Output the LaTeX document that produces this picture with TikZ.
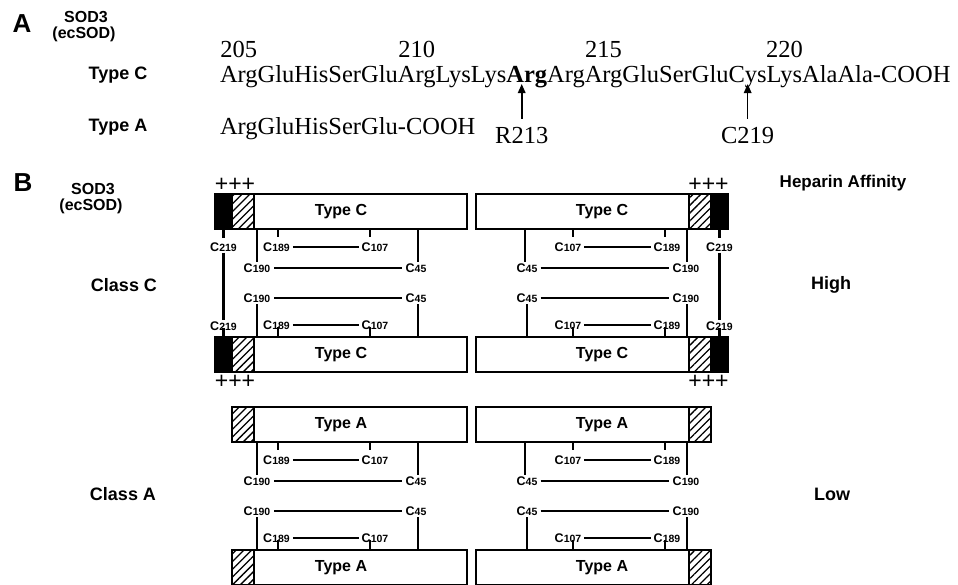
\documentclass[tikz,border=0pt]{standalone}
\usepackage{fontspec}
\setmainfont{Liberation Serif}
\newfontfamily\arialfont{Liberation Sans}
\usetikzlibrary{patterns.meta,arrows.meta,calc}
\newcommand{\cyslab}[1]{C{\fontsize{10.5}{10.5}\selectfont #1}}
\begin{document}
\begin{tikzpicture}[x=1pt,y=-1pt,
  lab/.style={font=\arialfont\bfseries\fontsize{18}{18}\selectfont, inner sep=0},
  sod/.style={font=\arialfont\bfseries\fontsize{16}{16}\selectfont, inner sep=0},
  big/.style={font=\arialfont\bfseries\fontsize{26}{26}\selectfont, inner sep=0},
  res/.style={font=\fontsize{24.5}{28}\selectfont, inner sep=0, outer sep=0, anchor=base west},
  num/.style={font=\fontsize{24.5}{28}\selectfont, inner sep=0, anchor=base},
  arr/.style={line width=1.6pt, -{Triangle[length=9pt,width=7.5pt]}},
  wbox/.style={draw, line width=1.7pt, minimum height=35pt, inner sep=0, outer sep=0, fill=white},
  hbox/.style={draw, line width=1.7pt, minimum height=35pt, minimum width=22pt, inner sep=0, outer sep=0, pattern={Lines[angle=45,distance=5.5pt,line width=1.3pt]}},
  bbox/.style={draw, line width=1.7pt, minimum height=35pt, minimum width=17pt, inner sep=0, outer sep=0, fill=black},
  boxtxt/.style={font=\arialfont\bfseries\fontsize{16}{16}\selectfont, inner sep=0},
  cl/.style={font=\arialfont\bfseries\fontsize{12.5}{12.5}\selectfont, inner sep=1pt},
  con/.style={line width=2.2pt},
  plus/.style={font=\arialfont\fontsize{23}{23}\selectfont, inner sep=0}
]
\useasboundingbox (0,0) rectangle (958,584);

% ---------------- Part A ----------------
\node[big] (A) at (22,24) {A};
\node[sod] (sodA) at (86,17) {SOD3};
\node[sod] (ecA) at (84,34) {(ecSOD)};
\node[lab] (tCA) at (118,75) {Type C};
\node[lab] (tAA) at (118,127) {Type A};

\node[res] (r205) at (220,82) {Arg};
\node[res] (r206) at (r205.base east) {Glu};
\node[res] (r207) at (r206.base east) {His};
\node[res] (r208) at (r207.base east) {Ser};
\node[res] (r209) at (r208.base east) {Glu};
\node[res] (r210) at (r209.base east) {Arg};
\node[res] (r211) at (r210.base east) {Lys};
\node[res] (r212) at (r211.base east) {Lys};
\node[res] (r213) at (r212.base east) {\textbf{Arg}};
\node[res] (r214) at (r213.base east) {Arg};
\node[res] (r215) at (r214.base east) {Arg};
\node[res] (r216) at (r215.base east) {Glu};
\node[res] (r217) at (r216.base east) {Ser};
\node[res] (r218) at (r217.base east) {Glu};
\node[res] (r219) at (r218.base east) {Cys};
\node[res] (r220) at (r219.base east) {Lys};
\node[res] (r221) at (r220.base east) {Ala};
\node[res] (r222) at (r221.base east) {Ala};
\node[res] (rend) at (r222.base east) {-COOH};

\node[num] (n205) at ($(r205.base)+(0,-25)$) {205};
\node[num] (n210) at ($(r210.base)+(0,-25)$) {210};
\node[num] (n215) at ($(r215.base)+(0,-25)$) {215};
\node[num] (n220) at ($(r220.base)+(0,-25)$) {220};

\node[res] (seqA) at (220,134) {ArgGluHisSerGlu-COOH};

\node[num] (lR213) at ($(r213.base)+(-5,61)$) {R213};
\node[num] (lC219) at ($(r219.base)+(0,61)$) {C219};
\draw[arr, shorten <=8pt] (lR213.north) -- ($(lR213.north |- r213.base)+(0,2)$);
\draw[arr, shorten <=8pt] (lC219.north) -- ($(lC219.north |- r219.base)+(0,2)$);

% ---------------- Part B ----------------
\node[big] (B) at (23,183) {B};
\node[sod] (sodB) at (93,189) {SOD3};
\node[sod] (ecB) at (91,206) {(ecSOD)};
\node[lab] (clC) at (124,285) {Class C};
\node[lab] (clA) at (123,494) {Class A};
\node[lab, font=\arialfont\bfseries\fontsize{17}{17}\selectfont] (hep) at (843,183) {Heparin Affinity};
\node[lab] (high) at (831,285) {High};
\node[lab] (low) at (832,494) {Low};

\foreach \p/\dy/\isC/\T in {c/0/1/C, a/213/0/A}{
\begin{scope}[shift={(0,\dy)}]
  % boxes, left pair
  \node[wbox, anchor=north west, minimum width=213pt] (\p-LT) at (254,194) {};
  \node[hbox, anchor=north east] (\p-LTh) at (\p-LT.north west) {};
  \node[boxtxt] (\p-LTt) at (341,211.5) {Type \T};
  \node[wbox, anchor=north west, minimum width=213pt] (\p-LB) at (254,337) {};
  \node[hbox, anchor=north east] (\p-LBh) at (\p-LB.north west) {};
  \node[boxtxt] (\p-LBt) at (341,354.5) {Type \T};
  % boxes, right pair
  \node[wbox, anchor=north east, minimum width=213pt] (\p-RT) at (689,194) {};
  \node[hbox, anchor=north west] (\p-RTh) at (\p-RT.north east) {};
  \node[boxtxt] (\p-RTt) at (602,211.5) {Type \T};
  \node[wbox, anchor=north east, minimum width=213pt] (\p-RB) at (689,337) {};
  \node[hbox, anchor=north west] (\p-RBh) at (\p-RB.north east) {};
  \node[boxtxt] (\p-RBt) at (602,354.5) {Type \T};

  % cysteine labels, left pair
  \node[cl] (\p-u189L) at (276.5,247) {\cyslab{189}};
  \node[cl] (\p-u107L) at (375,247) {\cyslab{107}};
  \node[cl] (\p-u190L) at (257,268) {\cyslab{190}};
  \node[cl] (\p-u45L) at (416,268) {\cyslab{45}};
  \node[cl] (\p-d190L) at (257,298) {\cyslab{190}};
  \node[cl] (\p-d45L) at (416,298) {\cyslab{45}};
  \node[cl] (\p-d189L) at (276.5,325) {\cyslab{189}};
  \node[cl] (\p-d107L) at (375,325) {\cyslab{107}};
  \coordinate (\p-k189L) at (278,0);
  \coordinate (\p-k107L) at (370,0);
  \coordinate (\p-k45L) at (418,0);
  % cysteine labels, right pair
  \node[cl] (\p-u107R) at (568,247) {\cyslab{107}};
  \node[cl] (\p-u189R) at (667,247) {\cyslab{189}};
  \node[cl] (\p-u45R) at (527,268) {\cyslab{45}};
  \node[cl] (\p-u190R) at (686,268) {\cyslab{190}};
  \node[cl] (\p-d45R) at (527,298) {\cyslab{45}};
  \node[cl] (\p-d190R) at (686,298) {\cyslab{190}};
  \node[cl] (\p-d107R) at (568,325) {\cyslab{107}};
  \node[cl] (\p-d189R) at (667,325) {\cyslab{189}};
  \coordinate (\p-k107R) at (573,0);
  \coordinate (\p-k189R) at (665,0);
  \coordinate (\p-k45R) at (525,0);
  \coordinate (\p-k190R) at (687,0);

  % connectors, left pair
  \draw[con, shorten >=4pt] (\p-LT.south -| \p-k189L) -- (\p-u189L.north -| \p-k189L);
  \draw[con, shorten >=4pt] (\p-LT.south -| \p-k107L) -- (\p-u107L.north -| \p-k107L);
  \draw[con, shorten <=2pt, shorten >=2pt] (\p-u189L.east) -- (\p-u107L.west);
  \draw[con] (\p-LT.south -| \p-u190L) -- (\p-u190L.north);
  \draw[con] (\p-LT.south -| \p-k45L) -- (\p-u45L.north -| \p-k45L);
  \draw[con, shorten <=3pt, shorten >=2pt] (\p-u190L.east) -- (\p-u45L.west);
  \draw[con, shorten <=3pt, shorten >=2pt] (\p-d190L.east) -- (\p-d45L.west);
  \draw[con] (\p-LB.north -| \p-d190L) -- (\p-d190L.south);
  \draw[con] (\p-LB.north -| \p-k45L) -- (\p-d45L.south -| \p-k45L);
  \draw[con, shorten <=2pt, shorten >=2pt] (\p-d189L.east) -- (\p-d107L.west);
  \draw[con, shorten >=-4pt] (\p-LB.north -| \p-k189L) -- (\p-d189L.south -| \p-k189L);
  \draw[con, shorten >=-4pt] (\p-LB.north -| \p-k107L) -- (\p-d107L.south -| \p-k107L);

  % connectors, right pair
  \draw[con, shorten >=4pt] (\p-RT.south -| \p-k107R) -- (\p-u107R.north -| \p-k107R);
  \draw[con, shorten >=4pt] (\p-RT.south -| \p-k189R) -- (\p-u189R.north -| \p-k189R);
  \draw[con, shorten <=2pt, shorten >=2pt] (\p-u107R.east) -- (\p-u189R.west);
  \draw[con] (\p-RT.south -| \p-k45R) -- (\p-u45R.north -| \p-k45R);
  \draw[con] (\p-RT.south -| \p-k190R) -- (\p-u190R.north -| \p-k190R);
  \draw[con, shorten <=2pt, shorten >=3pt] (\p-u45R.east) -- (\p-u190R.west);
  \draw[con, shorten <=2pt, shorten >=3pt] (\p-d45R.east) -- (\p-d190R.west);
  \draw[con] (\p-RB.north -| \p-d45R) -- (\p-d45R.south);
  \draw[con] (\p-RB.north -| \p-k190R) -- (\p-d190R.south -| \p-k190R);
  \draw[con, shorten <=2pt, shorten >=2pt] (\p-d107R.east) -- (\p-d189R.west);
  \draw[con, shorten >=-4pt] (\p-RB.north -| \p-k107R) -- (\p-d107R.south -| \p-k107R);
  \draw[con, shorten >=-4pt] (\p-RB.north -| \p-k189R) -- (\p-d189R.south -| \p-k189R);

  \ifnum\isC=1
    \node[bbox, anchor=north east] (\p-LTb) at (\p-LTh.north west) {};
    \node[bbox, anchor=north east] (\p-LBb) at (\p-LBh.north west) {};
    \node[bbox, anchor=north west] (\p-RTb) at (\p-RTh.north east) {};
    \node[bbox, anchor=north west] (\p-RBb) at (\p-RBh.north east) {};
    \node[plus] (\p-plLT) at (235,185) {+++};
    \node[plus] (\p-plRT) at (708.5,185) {+++};
    \node[plus] (\p-plLB) at (235,382) {+++};
    \node[plus] (\p-plRB) at (708.5,382) {+++};
    \node[cl] (\p-u219L) at (223.5,247) {\cyslab{219}};
    \node[cl] (\p-d219L) at (223.5,326) {\cyslab{219}};
    \node[cl] (\p-u219R) at (719.5,247) {\cyslab{219}};
    \node[cl] (\p-d219R) at (719.5,326) {\cyslab{219}};
    \draw[con, shorten >=3pt] (\p-LTb.south) -- (\p-u219L.north -| \p-LTb.south);
    \draw[con] (\p-u219L.south) -- (\p-d219L.north);
    \draw[con, shorten >=-4pt] (\p-LBb.north) -- (\p-d219L.south -| \p-LBb.north);
    \draw[con, shorten >=3pt] (\p-RTb.south) -- (\p-u219R.north -| \p-RTb.south);
    \draw[con] (\p-u219R.south) -- (\p-d219R.north);
    \draw[con, shorten >=-4pt] (\p-RBb.north) -- (\p-d219R.south -| \p-RBb.north);
  \fi
\end{scope}
}
\end{tikzpicture}
\end{document}
